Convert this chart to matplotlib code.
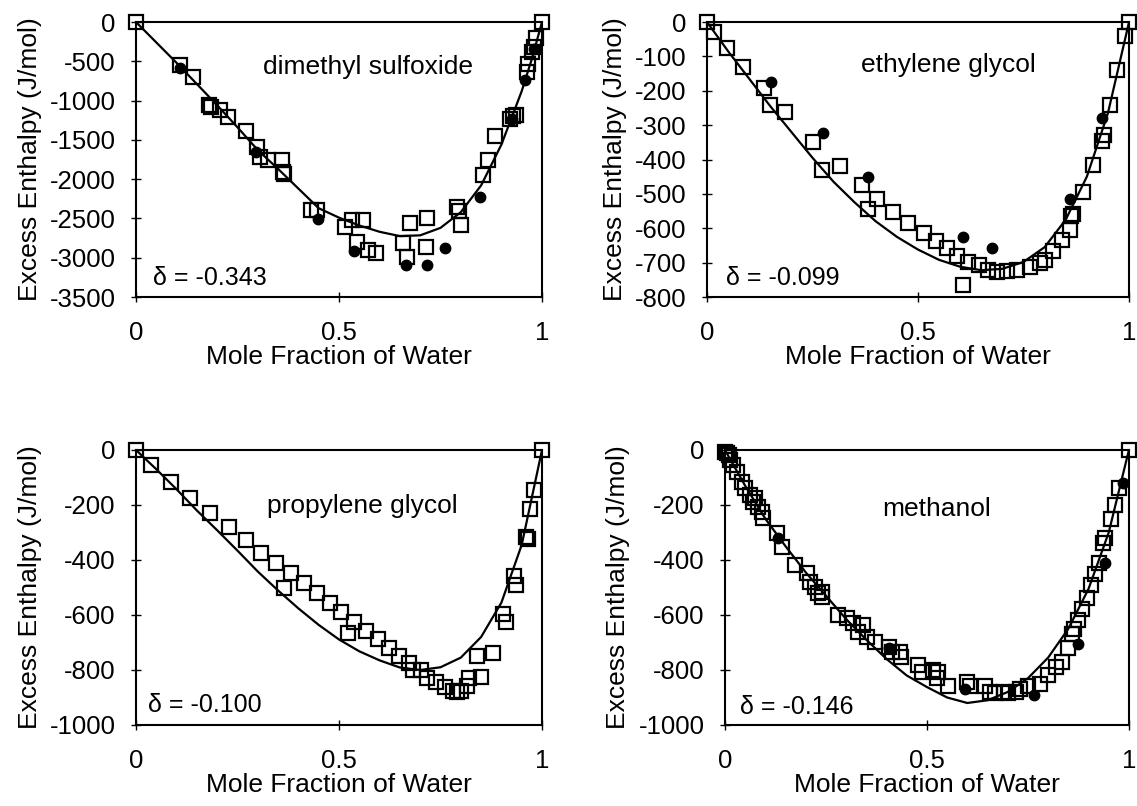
import matplotlib
matplotlib.use("Agg")
import matplotlib.pyplot as plt

plt.rcParams['font.family'] = ['Liberation Sans', 'DejaVu Sans']
plt.rcParams['axes.unicode_minus'] = False

# ---- dimethyl sulfoxide ----
dmso_sq_x = [0, 0.108, 0.140, 0.180, 0.184, 0.207, 0.226, 0.271, 0.297, 0.305, 0.326, 0.359, 0.362, 0.364,
             0.432, 0.445, 0.515, 0.531, 0.560, 0.544, 0.572, 0.590, 0.658, 0.675, 0.667, 0.716, 0.714,
             0.790, 0.795, 0.800, 0.855, 0.868, 0.885, 0.920, 0.928, 0.935, 0.962, 0.966, 0.975, 0.980, 0.985, 1.0]
dmso_sq_y = [0, -547, -696, -1050, -1080, -1120, -1205, -1387, -1587, -1714, -1756, -1756, -1910, -1940,
             -2393, -2393, -2605, -2520, -2520, -2796, -2902, -2945, -2817, -2554, -2987, -2499, -2868,
             -2350, -2400, -2580, -1950, -1750, -1450, -1230, -1190, -1180, -640, -530, -380, -320, -200, 0]
dmso_ci_x = [0.108, 0.296, 0.449, 0.537, 0.665, 0.716, 0.762, 0.848, 0.925, 0.958, 0.980]
dmso_ci_y = [-585, -1650, -2507, -2910, -3090, -3090, -2870, -2230, -1230, -740, -340]
dmso_fit_x = [0, 0.05, 0.1, 0.15, 0.2, 0.25, 0.3, 0.35, 0.4, 0.45, 0.5, 0.55, 0.6, 0.65, 0.7,
              0.75, 0.8, 0.85, 0.9, 0.95, 0.975, 1.0]
dmso_fit_y = [0, -260, -520, -790, -1060, -1340, -1630, -1870, -2120, -2370, -2490, -2590, -2670, -2725, -2715,
              -2620, -2420, -2080, -1560, -880, -470, 0]

# ---- ethylene glycol ----
eg_sq_x = [0, 0.017, 0.048, 0.086, 0.135, 0.149, 0.185, 0.252, 0.272, 0.315, 0.367, 0.382, 0.404, 0.440,
           0.477, 0.513, 0.543, 0.568, 0.593, 0.607, 0.619, 0.645, 0.667, 0.687, 0.71, 0.735, 0.765, 0.79,
           0.80, 0.82, 0.84, 0.86, 0.862, 0.868, 0.89, 0.915, 0.935, 0.94, 0.955, 0.972, 0.99, 1.0]
eg_sq_y = [0, -28, -77, -130, -193, -241, -261, -348, -431, -419, -474, -545, -516, -552,
           -586, -615, -636, -658, -681, -765, -697, -707, -721, -726, -725, -722, -712, -700,
           -692, -665, -635, -605, -565, -558, -495, -415, -345, -330, -240, -140, -40, 0]
eg_ci_x = [0.151, 0.274, 0.382, 0.607, 0.675, 0.86, 0.935]
eg_ci_y = [-174, -324, -450, -626, -656, -515, -280]
eg_fit_x = [0, 0.05, 0.1, 0.15, 0.2, 0.25, 0.3, 0.35, 0.4, 0.45, 0.5, 0.55, 0.6, 0.65, 0.7,
            0.75, 0.8, 0.85, 0.9, 0.95, 1.0]
eg_fit_y = [0, -85, -165, -245, -320, -395, -465, -525, -580, -625, -662, -692, -712, -722, -718,
            -698, -655, -575, -450, -265, 0]

# ---- propylene glycol ----
pg_sq_x = [0, 0.037, 0.086, 0.133, 0.182, 0.229, 0.271, 0.309, 0.345, 0.365, 0.382, 0.415, 0.447, 0.478,
           0.506, 0.523, 0.538, 0.567, 0.595, 0.624, 0.649, 0.673, 0.683, 0.703, 0.716, 0.74, 0.76, 0.78,
           0.79, 0.80, 0.815, 0.82, 0.84, 0.85, 0.88, 0.905, 0.912, 0.93, 0.935, 0.96, 0.965, 0.97, 0.98, 1.0]
pg_sq_y = [0, -55, -115, -176, -230, -281, -327, -373, -412, -503, -448, -482, -519, -555,
           -588, -667, -624, -657, -688, -721, -749, -773, -800, -800, -830, -845, -862, -875,
           -880, -878, -860, -830, -750, -825, -740, -595, -625, -460, -490, -315, -325, -215, -145, 0]
pg_fit_x = [0, 0.05, 0.1, 0.15, 0.2, 0.25, 0.3, 0.35, 0.4, 0.45, 0.5, 0.55, 0.6, 0.65, 0.7,
            0.75, 0.8, 0.85, 0.9, 0.95, 1.0]
pg_fit_y = [0, -70, -143, -220, -292, -366, -442, -511, -576, -636, -689, -732, -765, -791, -800,
            -790, -755, -680, -555, -345, 0]

# ---- methanol ----
me_sq_x = [0, 0.005, 0.01, 0.012, 0.021, 0.029, 0.041, 0.05, 0.062, 0.07, 0.075, 0.083, 0.091, 0.095,
           0.128, 0.14, 0.173, 0.202, 0.21, 0.223, 0.231, 0.239, 0.24, 0.281, 0.301, 0.318, 0.33, 0.342,
           0.351, 0.371, 0.405, 0.413, 0.433, 0.437, 0.479, 0.487, 0.516, 0.528, 0.524, 0.553, 0.598,
           0.607, 0.644, 0.656, 0.668, 0.69, 0.70, 0.72, 0.73, 0.75, 0.78, 0.80, 0.82, 0.835, 0.85,
           0.86, 0.865, 0.875, 0.885, 0.895, 0.905, 0.915, 0.925, 0.935, 0.94, 0.955, 0.965, 0.975, 1.0]
me_sq_y = [-6, -12, -20, -36, -55, -79, -115, -139, -164, -188, -175, -206, -224, -248,
           -303, -352, -418, -448, -479, -497, -521, -533, -515, -600, -612, -630, -661, -636,
           -679, -697, -715, -733, -733, -752, -782, -806, -800, -806, -830, -858, -842,
           -860, -858, -879, -885, -880, -885, -880, -870, -860, -850, -820, -790, -770, -720,
           -670, -650, -620, -580, -540, -490, -450, -410, -340, -320, -250, -200, -140, 0]
me_ci_x = [0.132, 0.405, 0.594, 0.765, 0.875, 0.94, 0.985]
me_ci_y = [-321, -721, -870, -890, -705, -410, -120]
me_fit_x = [0, 0.05, 0.1, 0.15, 0.2, 0.25, 0.3, 0.35, 0.4, 0.45, 0.5, 0.55, 0.6, 0.65, 0.7,
            0.75, 0.8, 0.85, 0.9, 0.95, 1.0]
me_fit_y = [0, -130, -250, -350, -445, -530, -615, -690, -760, -820, -862, -900, -920, -910, -880,
            -830, -755, -650, -505, -300, 0]

panels = [
    ([0.1196, 0.6315, 0.3571, 0.3412], dmso_sq_x, dmso_sq_y, dmso_ci_x, dmso_ci_y, dmso_fit_x, dmso_fit_y,
     -3500, 500, "dimethyl sulfoxide", (0.572, 0.835), "\u03b4 = -0.343", (0.042, 0.07)),
    ([0.6218, 0.6315, 0.3712, 0.3412], eg_sq_x, eg_sq_y, eg_ci_x, eg_ci_y, eg_fit_x, eg_fit_y,
     -800, 100, "ethylene glycol", (0.573, 0.845), "\u03b4 = -0.099", (0.045, 0.07)),
    ([0.1196, 0.1005, 0.3571, 0.3412], pg_sq_x, pg_sq_y, [], [], pg_fit_x, pg_fit_y,
     -1000, 200, "propylene glycol", (0.557, 0.795), "\u03b4 = -0.100", (0.03, 0.073)),
    ([0.6376, 0.1005, 0.3553, 0.3412], me_sq_x, me_sq_y, me_ci_x, me_ci_y, me_fit_x, me_fit_y,
     -1000, 200, "methanol", (0.525, 0.785), "\u03b4 = -0.146", (0.037, 0.065)),
]

fig = plt.figure(figsize=(11.37, 8.06), dpi=100)
fs = 19

for rect, sx, sy, cx, cy, fx, fy, ymin, ystep, name, npos, dtext, dpos in panels:
    ax = fig.add_axes(rect)
    ax.plot(fx, fy, color='black', lw=1.6, zorder=2)
    ax.plot(sx, sy, 's', mfc='none', mec='black', ms=10, mew=1.6, clip_on=False, zorder=3)
    if len(cx):
        ax.plot(cx, cy, 'o', color='black', ms=7.5, clip_on=False, zorder=4)
    ax.set_xlim(0, 1)
    ax.set_ylim(ymin, 0)
    ax.set_xticks([0, 0.5, 1])
    ax.set_xticklabels(['0', '0.5', '1'])
    ax.set_yticks(list(range(ymin, 1, ystep)))
    for s in ax.spines.values():
        s.set_linewidth(1.5)
    ax.tick_params(direction='inout', length=7, width=1, labelsize=18.5)
    ax.tick_params(axis='x', pad=14)
    ax.tick_params(axis='y', pad=11)
    ax.set_xlabel("Mole Fraction of Water", fontsize=fs, labelpad=0)
    ax.set_ylabel("Excess Enthalpy (J/mol)", fontsize=fs, labelpad=6)
    ax.text(npos[0], npos[1], name, transform=ax.transAxes, ha='center', va='center', fontsize=fs)
    ax.text(dpos[0], dpos[1], dtext, transform=ax.transAxes, ha='left', va='center', fontsize=18)

fig.savefig("out.png", dpi=100)
